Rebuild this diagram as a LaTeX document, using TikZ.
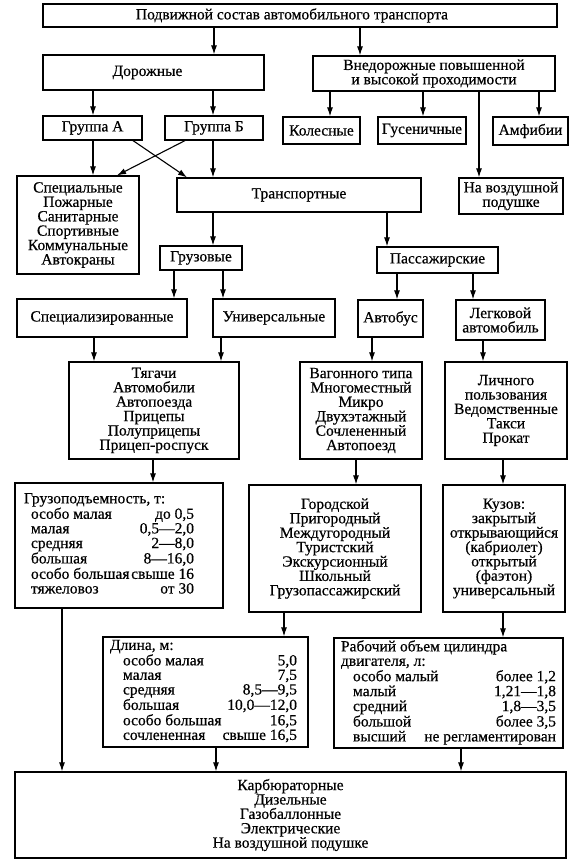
\documentclass[tikz,border=0pt]{standalone}
\usepackage{fontspec}
\setmainfont[FakeBold=0.5]{Liberation Serif}
\usetikzlibrary{arrows.meta}
\newcommand{\fnt}{\fontsize{15.5}{14.4}\selectfont}
\begin{document}
\begin{tikzpicture}[x=1pt,y=-1pt,
  bx/.style={draw, line width=1.2pt, inner sep=0pt, align=center, font=\fnt},
  arr/.style={line width=1.1pt, -{Latex[length=9pt,width=6pt]}}]
\useasboundingbox (0,0) rectangle (580,866);

\node[bx, minimum width=514, minimum height=23] (top) at (300,15.5) {Подвижной состав автомобильного транспорта\hspace*{16pt}};
\node[bx, minimum width=221, minimum height=35] (dor) at (153.5,72.5) {Дорожные\hspace*{12pt}};
\node[bx, minimum width=242, minimum height=35] (vned) at (434,73.5) {Внедорожные повышенной\\и высокой проходимости};
\node[bx, minimum width=99, minimum height=24] (grA) at (92.5,128) {Группа А};
\node[bx, minimum width=98, minimum height=24] (grB) at (214,128) {Группа Б};
\node[bx, minimum width=77, minimum height=27] (kol) at (321.5,130.5) {Колесные};
\node[bx, minimum width=88, minimum height=27] (gus) at (422,130.5) {Гусеничные};
\node[bx, minimum width=75, minimum height=28] (amf) at (530.5,131) {Амфибии};
\node[bx, minimum width=104, minimum height=36] (vp) at (511,196) {На воздушной\\подушке};
\node[bx, minimum width=122, minimum height=98] (spec) at (78,225) {Специальные\\Пожарные\\Санитарные\\Спортивные\\Коммунальные\\Автокраны};
\node[bx, minimum width=244, minimum height=34] (trans) at (299,195) {Транспортные};
\node[bx, minimum width=82, minimum height=24] (gruz) at (201,258) {Грузовые};
\node[bx, minimum width=121, minimum height=26] (pass) at (437.5,260) {Пассажирские};
\node[bx, minimum width=170, minimum height=38] (specz) at (102,318) {Специализированные};
\node[bx, minimum width=122, minimum height=38] (univ) at (274,318) {Универсальные};
\node[bx, minimum width=65, minimum height=37] (avt) at (390.5,318.5) {Автобус};
\node[bx, minimum width=89, minimum height=40] (legk) at (500.5,320) {Легковой\\автомобиль};
\node[bx, minimum width=170, minimum height=97] (tyag) at (154,410.5) {Тягачи\\Автомобили\\Автопоезда\\Прицепы\\Полуприцепы\\Прицеп-роспуск};
\node[bx, minimum width=122, minimum height=97] (vag) at (361,410.5) {Вагонного типа\\Многоместный\\Микро\\Двухэтажный\\Сочлененный\\Автопоезд};
\node[bx, minimum width=122, minimum height=97] (lich) at (506,410.5) {Личного\\пользования\\Ведомственные\\Такси\\Прокат};
\node[bx, minimum width=208, minimum height=125] (gp) at (119,545.5) {\begin{tabular*}{190pt}{@{\hspace{7pt}}l@{\extracolsep{\fill}}r@{\hspace{20pt}}}
\multicolumn{2}{@{}l}{Грузоподъемность, т:}\\
особо малая & до 0,5\\
малая & 0,5—2,0\\
средняя & 2—8,0\\
большая & 8—16,0\\
особо большая & свыше 16\\
тяжеловоз & от 30
\end{tabular*}};
\node[bx, minimum width=172, minimum height=127] (gor) at (335,548.5) {Городской\\Пригородный\\Междугородный\\Туристский\\Экскурсионный\\Школьный\\Грузопассажирский};
\node[bx, minimum width=122, minimum height=127] (kuz) at (504,548.5) {Кузов:\\закрытый\\открывающийся\\(кабриолет)\\открытый\\(фаэтон)\\универсальный};
\node[bx, minimum width=205, minimum height=110] (dl) at (205.5,692) {\begin{tabular*}{191pt}{@{\hspace{13pt}}l@{\extracolsep{\fill}}r@{\hspace{4pt}}}
\multicolumn{2}{@{}l}{Длина, м:}\\
особо малая & 5,0\\
малая & 7,5\\
средняя & 8,5—9,5\\
большая & 10,0—12,0\\
особо большая & 16,5\\
сочлененная & свыше 16,5
\end{tabular*}};
\node[bx, minimum width=229, minimum height=110] (rab) at (448.5,693) {\begin{tabular*}{215pt}{@{\hspace{12pt}}l@{\extracolsep{\fill}}r@{}}
\multicolumn{2}{@{}l}{Рабочий объем цилиндра}\\
\multicolumn{2}{@{}l}{двигателя, л:}\\
особо малый & более 1,2\\
малый & 1,21—1,8\\
средний & 1,8—3,5\\
большой & более 3,5\\
\multicolumn{2}{@{\hspace{12pt}}l@{}}{высший\hfill не регламентирован}
\end{tabular*}};
\node[bx, minimum width=551, minimum height=86] (bot) at (290.5,815) {Карбюраторные\\Дизельные\\Газобаллонные\\Электрические\\На воздушной подушке};

\draw[arr] (top.south -| 214,0) -- (dor.north -| 214,0);
\draw[arr] (top.south -| 360,0) -- (vned.north -| 360,0);
\draw[arr] (dor.south -| 93,0) -- (grA.north -| 93,0);
\draw[arr] (dor.south -| 213,0) -- (grB.north -| 213,0);
\draw[arr] (vned.south -| 330,0) -- (kol.north -| 330,0);
\draw[arr] (vned.south -| 423,0) -- (gus.north -| 423,0);
\draw[arr] (vned.south -| 539,0) -- (amf.north -| 539,0);
\draw[arr] (vned.south -| 479,0) -- (vp.north -| 479,0);
\draw[arr] (grA.south -| 93,0) -- (spec.north -| 93,0);
\draw[arr] (grB.south -| 213,0) -- (trans.north -| 213,0);
\draw[arr] (grA.south -| 133,0) -- (trans.north -| 187,0);
\draw[arr] (grB.south -| 185,0) -- (spec.north -| 117,0);
\draw[arr] (trans.south -| 213,0) -- (gruz.north -| 213,0);
\draw[arr] (trans.south -| 387,0) -- (pass.north -| 387,0);
\draw[arr] (gruz.south -| 174,0) -- (specz.north -| 174,0);
\draw[arr] (gruz.south -| 223,0) -- (univ.north -| 223,0);
\draw[arr] (pass.south -| 397,0) -- (avt.north -| 397,0);
\draw[arr] (pass.south -| 473,0) -- (legk.north -| 473,0);
\draw[arr] (specz.south -| 94,0) -- (tyag.north -| 94,0);
\draw[arr] (univ.south -| 221,0) -- (tyag.north -| 221,0);
\draw[arr] (avt.south -| 372,0) -- (vag.north -| 372,0);
\draw[arr] (legk.south -| 483,0) -- (lich.north -| 483,0);
\draw[arr] (tyag.south -| 153,0) -- (gp.north -| 153,0);
\draw[arr] (vag.south -| 356,0) -- (gor.north -| 356,0);
\draw[arr] (lich.south -| 503,0) -- (kuz.north -| 503,0);
\draw[arr] (gp.south -| 62,0) -- (bot.north -| 62,0);
\draw[arr] (gor.south -| 284,0) -- (dl.north -| 284,0);
\draw[arr] (kuz.south -| 503,0) -- (rab.north -| 503,0);
\draw[arr] (dl.south -| 216,0) -- (bot.north -| 216,0);
\draw[arr] (rab.south -| 461,0) -- (bot.north -| 461,0);
\end{tikzpicture}
\end{document}
